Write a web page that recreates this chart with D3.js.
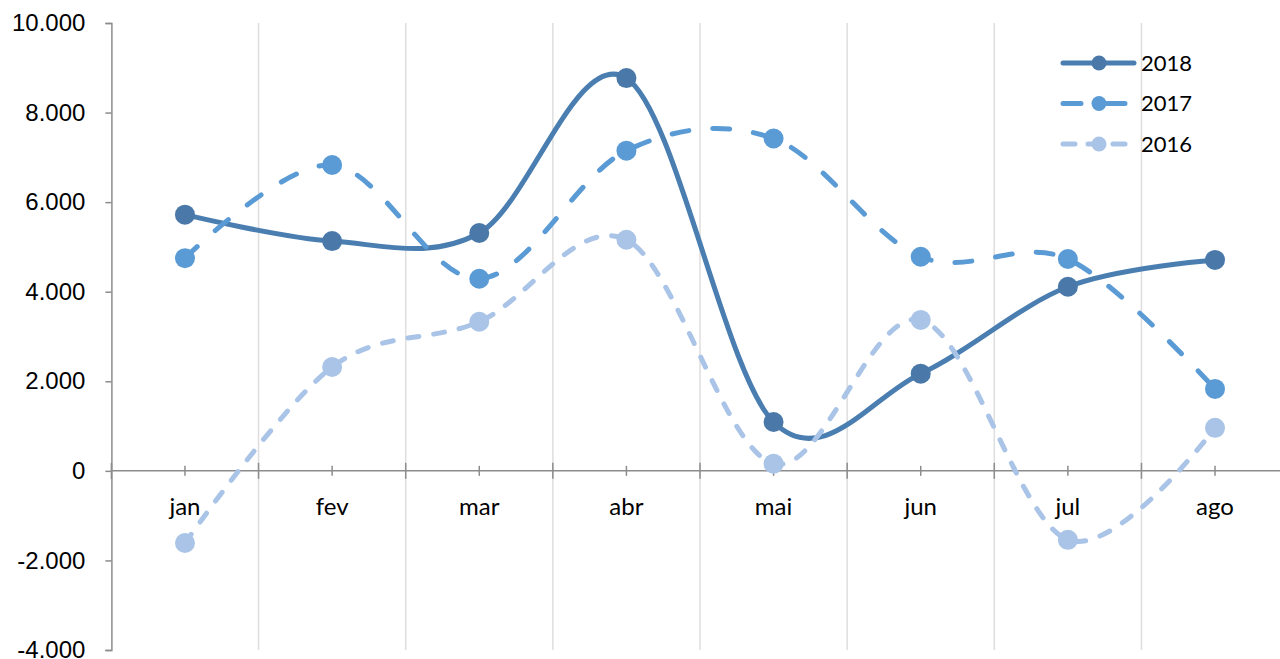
<!DOCTYPE html>
<html>
<head>
<meta charset="utf-8">
<script src="https://cdn.jsdelivr.net/npm/d3@7"></script>
<style>
  body { margin: 0; background: #fff; }
  svg { display: block; font-family: Lato, "Open Sans", sans-serif; }
</style>
</head>
<body>
<svg id="chart"></svg>
<script>
const months = ["jan", "fev", "mar", "abr", "mai", "jun", "jul", "ago"];
const yTicks = [-4000, -2000, 0, 2000, 4000, 6000, 8000, 10000];

const values2018 = [5720, 5130, 5310, 8770, 1090, 2170, 4110, 4710];
const values2017 = [4750, 6830, 4290, 7150, 7420, 4780, 4730, 1830];
const values2016 = [-1610, 2320, 3330, 5160, 160, 3370, -1540, 960];

const series = [
  { name: "2018", values: values2018, color: "#4A7EB1", marker: "#4A79A9", dash: null, legendDash: null },
  { name: "2017", values: values2017, color: "#5B9BD5", marker: "#5B9BD5", dash: "17,24", legendDash: "18,26" },
  { name: "2016", values: values2016, color: "#A9C4E7", marker: "#A9C4E7", dash: "11,15", legendDash: "12,13" }
];

const width = 1280, height = 659;
const margin = { top: 23, left: 111.4, bottom: 9 };
const plotRight = 1288.6;

const svg = d3.select("#chart").attr("width", width).attr("height", height);

const x = d3.scaleBand().domain(months).range([margin.left, plotRight]);
const y = d3.scaleLinear().domain([-4000, 10000]).range([height - margin.bottom, margin.top]);

const fmt = d => d3.format(",")(d).replace(/,/g, ".").replace("−", "-");

// vertical grid lines at category boundaries
svg.append("g")
  .selectAll("line")
  .data(months.slice(1))
  .enter()
  .append("line")
  .attr("x1", d => x(d)).attr("x2", d => x(d))
  .attr("y1", y(10000)).attr("y2", y(-4000))
  .attr("stroke", "#dedede")
  .attr("stroke-width", 1.5);

// y axis
const yAxis = svg.append("g")
  .attr("transform", `translate(${margin.left},0)`)
  .call(d3.axisLeft(y).tickValues(yTicks).tickFormat(fmt).tickSize(6).tickPadding(20));
yAxis.select(".domain").attr("stroke", "#8c8c8c").attr("stroke-width", 1.5);
yAxis.selectAll(".tick line").attr("stroke", "#8c8c8c").attr("stroke-width", 1.5);
yAxis.selectAll("text").attr("font-size", 24).attr("fill", "#000");

// x axis at zero
const xg = svg.append("g").attr("transform", `translate(0,${y(0)})`);
xg.append("line")
  .attr("x1", margin.left).attr("x2", plotRight)
  .attr("stroke", "#8c8c8c").attr("stroke-width", 1.5);
xg.selectAll(".major")
  .data(months.concat(["end"]))
  .enter()
  .append("line")
  .attr("x1", (d, i) => margin.left + i * x.bandwidth())
  .attr("x2", (d, i) => margin.left + i * x.bandwidth())
  .attr("y1", -8).attr("y2", 8)
  .attr("stroke", "#8c8c8c").attr("stroke-width", 1.5);
xg.selectAll(".minor")
  .data(months)
  .enter()
  .append("line")
  .attr("x1", d => x(d) + x.bandwidth() / 2)
  .attr("x2", d => x(d) + x.bandwidth() / 2)
  .attr("y1", -5).attr("y2", 5)
  .attr("stroke", "#8c8c8c").attr("stroke-width", 1.5);
xg.selectAll("text")
  .data(months)
  .enter()
  .append("text")
  .attr("x", d => x(d) + x.bandwidth() / 2)
  .attr("y", 36)
  .attr("dy", "0.35em")
  .attr("text-anchor", "middle")
  .attr("font-size", 24)
  .text(d => d);

// smoothed lines, like Excel's
const line = d3.line()
  .x((d, i) => x(months[i]) + x.bandwidth() / 2)
  .y(d => y(d))
  .curve(d3.curveCatmullRom.alpha(0));

series.forEach(s => {
  const g = svg.append("g");
  g.append("path")
    .datum(s.values)
    .attr("d", line)
    .attr("fill", "none")
    .attr("stroke", s.color)
    .attr("stroke-width", 5)
    .attr("stroke-linecap", "round")
    .attr("stroke-dasharray", s.dash);
  g.selectAll("circle")
    .data(s.values)
    .enter()
    .append("circle")
    .attr("cx", (d, i) => x(months[i]) + x.bandwidth() / 2)
    .attr("cy", d => y(d))
    .attr("r", 10)
    .attr("fill", s.marker);
});

// legend
const legend = svg.append("g").attr("transform", "translate(1063,63)");
series.forEach((s, i) => {
  const row = legend.append("g").attr("transform", `translate(0,${i * 40.5})`);
  row.append("line")
    .attr("x1", 0).attr("x2", 71)
    .attr("stroke", s.color)
    .attr("stroke-width", 5)
    .attr("stroke-linecap", "round")
    .attr("stroke-dasharray", s.legendDash);
  row.append("circle").attr("cx", 36).attr("r", 7.5).attr("fill", s.marker);
  row.append("text")
    .attr("x", 78).attr("dy", "0.35em")
    .attr("font-size", 22)
    .text(s.name);
});
</script>
</body>
</html>
